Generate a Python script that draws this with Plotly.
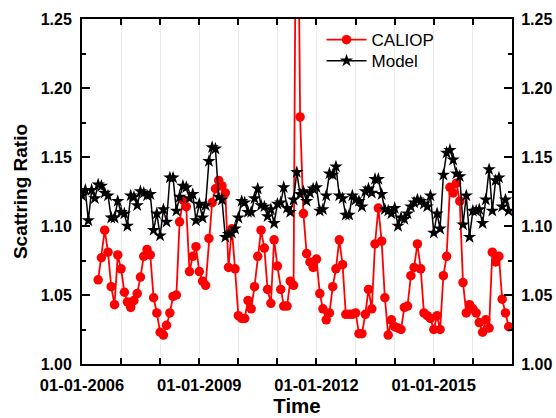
import pandas as pd
import plotly.graph_objects as go

# Monthly series, Jan 2006 - Dec 2016
model_start = "2006-01-01"
caliop_start = "2006-06-01"

model_values = [
    1.122, 1.126, 1.104, 1.126, 1.120, 1.130, 1.129, 1.124, 1.122, 1.106, 1.106, 1.118,
    1.110, 1.109, 1.100, 1.122, 1.121, 1.115, 1.125, 1.124, 1.122, 1.123, 1.097, 1.109,
    1.093, 1.112, 1.103, 1.135, 1.135, 1.111, 1.121, 1.129, 1.128, 1.120, 1.123, 1.104,
    1.116, 1.106, 1.115, 1.147, 1.157, 1.156, 1.121, 1.119, 1.092, 1.094, 1.095, 1.098,
    1.106, 1.118, 1.117, 1.110, 1.110, 1.120, 1.127, 1.115, 1.114, 1.107, 1.112, 1.102,
    1.116, 1.117, 1.128, 1.113, 1.110, 1.119, 1.139, 1.123, 1.125, 1.118, 1.124, 1.127,
    1.128, 1.111, 1.112, 1.122, 1.138, 1.137, 1.143, 1.122, 1.120, 1.108, 1.108, 1.122,
    1.119, 1.118, 1.114, 1.125, 1.127, 1.124, 1.134, 1.134, 1.123, 1.112, 1.111, 1.109,
    1.113, 1.100, 1.106, 1.105, 1.109, 1.114, 1.117, 1.119, 1.118, 1.116, 1.114, 1.122,
    1.095, 1.109, 1.098, 1.137, 1.153, 1.155, 1.148, 1.138, 1.136, 1.101, 1.122, 1.092,
    1.111, 1.111, 1.112, 1.102, 1.119, 1.141, 1.111, 1.133, 1.135, 1.114, 1.119, 1.111,
]

caliop_values = [
    1.061, 1.077, 1.097, 1.081, 1.056, 1.043, 1.079,
    1.069, 1.052, 1.045, 1.041, 1.046, 1.051, 1.063, 1.078, 1.083, 1.079, 1.048, 1.037,
    1.023, 1.021, 1.028, 1.037, 1.049, 1.050, 1.103, 1.119, 1.114, 1.067, 1.078, 1.085,
    1.067, 1.060, 1.057, 1.091, 1.117, 1.127, 1.133, 1.129, 1.124, 1.070, 1.098, 1.069,
    1.035, 1.033, 1.033, 1.046, 1.040, 1.056, 1.078, 1.097, 1.084, 1.054, 1.044, 1.090,
    1.071, 1.054, 1.042, 1.042, 1.060, 1.057, 1.450, 1.179, 1.109, 1.080, 1.074, 1.070,
    1.076, 1.051, 1.040, 1.032, 1.037, 1.056, 1.069, 1.090, 1.072, 1.036, 1.036, 1.036,
    1.037, 1.022, 1.022, 1.036, 1.054, 1.040, 1.087, 1.113, 1.089, 1.048, 1.021, 1.032,
    1.027, 1.026, 1.025, 1.041, 1.042, 1.064, 1.070, 1.087, 1.069, 1.037, 1.035, 1.033,
    1.025, 1.035, 1.025, 1.064, 1.078, 1.128, 1.124, 1.131, 1.118, 1.059, 1.037, 1.043,
    1.040, 1.037, 1.030, 1.023, 1.032, 1.026, 1.081, 1.074, 1.078, 1.047, 1.037, 1.027,
]

year_ticks = [f"{y}-01-01" for y in range(2006, 2018)]
year_labels = ["01-01-2006", "", "", "01-01-2009", "", "", "01-01-2012", "", "",
               "01-01-2015", "", ""]
y_ticks = [1.00, 1.05, 1.10, 1.15, 1.20, 1.25]
y_labels = ["1.00", "1.05", "1.10", "1.15", "1.20", "1.25"]
y_minor = [1.025, 1.075, 1.125, 1.175, 1.225]

model_dates = pd.date_range(model_start, periods=len(model_values), freq="MS")
caliop_dates = pd.date_range(caliop_start, periods=len(caliop_values), freq="MS")

FONT = "Liberation Sans, Arial, sans-serif"

fig = go.Figure()
fig.add_trace(go.Scatter(
    x=caliop_dates, y=caliop_values, mode="lines+markers", name="CALIOP",
    line=dict(color="#ff0000", width=1.8),
    marker=dict(symbol="circle", size=9.5, color="#ff0000"),
    legend="legend",
))
fig.add_trace(go.Scatter(
    x=model_dates, y=model_values, mode="lines+markers", name="Model",
    line=dict(color="#000000", width=1.5),
    marker=dict(symbol="star", size=10, color="#000000"),
    legend="legend2",
))
# invisible trace so the right axis is rendered
fig.add_trace(go.Scatter(x=[model_dates[0]], y=[y_ticks[2]], yaxis="y2", mode="markers",
                         marker=dict(opacity=0), showlegend=False, hoverinfo="skip"))

xtickfont = dict(size=16.5, family=FONT, weight="bold", color="black")
ytickfont = dict(size=16, family=FONT, weight="bold", color="black")
legfont = dict(size=17, family=FONT, color="black")

fig.update_layout(
    width=556, height=418,
    margin=dict(l=82, r=44, t=19, b=54, autoexpand=False),
    paper_bgcolor="white", plot_bgcolor="white",
    font=dict(family=FONT, color="black"),
    showlegend=True,
    legend=dict(x=0.557, y=0.991, xanchor="left", yanchor="top",
                bgcolor="rgba(0,0,0,0)", font=legfont, itemwidth=40),
    legend2=dict(x=0.557, y=0.930, xanchor="left", yanchor="top",
                 bgcolor="rgba(0,0,0,0)", font=legfont, itemwidth=40),
    xaxis=dict(
        range=["2006-01-01", "2017-01-01"],
        tickmode="array", tickvals=year_ticks, ticktext=year_labels,
        ticks="inside", ticklen=6, tickwidth=1.5, tickcolor="black",
        ticklabelstandoff=5,
        showline=True, linewidth=2, linecolor="black", mirror="ticks",
        showgrid=True, gridcolor="#ebebeb", gridwidth=1,
        tickfont=xtickfont,
        title=dict(text="Time", font=dict(size=20.5, family=FONT, weight="bold"), standoff=5),
        zeroline=False,
    ),
    yaxis=dict(
        range=[1.0, 1.25],
        tickmode="array", tickvals=y_ticks, ticktext=y_labels,
        ticks="inside", ticklen=8, tickwidth=1.5, tickcolor="black",
        ticklabelstandoff=5,
        minor=dict(tickvals=y_minor, ticks="inside",
                   ticklen=4, tickwidth=1.5, tickcolor="black", showgrid=False),
        showline=True, linewidth=2, linecolor="black",
        showgrid=False, zeroline=False,
        tickfont=ytickfont,
        title=dict(text="Scattring Ratio", font=dict(size=19, family=FONT, weight="bold"), standoff=8),
    ),
    yaxis2=dict(
        range=[1.0, 1.25], overlaying="y", side="right",
        tickmode="array", tickvals=y_ticks, ticktext=y_labels,
        ticks="inside", ticklen=8, tickwidth=1.5, tickcolor="black",
        ticklabelstandoff=4,
        minor=dict(tickvals=y_minor, ticks="inside",
                   ticklen=4, tickwidth=1.5, tickcolor="black", showgrid=False),
        showline=True, linewidth=2, linecolor="black",
        showgrid=False, zeroline=False,
        tickfont=ytickfont,
    ),
)

fig.write_html("out.html",
               config={"displayModeBar": False},
               post_script="document.body.style.margin='0';document.body.style.overflow='hidden';")
